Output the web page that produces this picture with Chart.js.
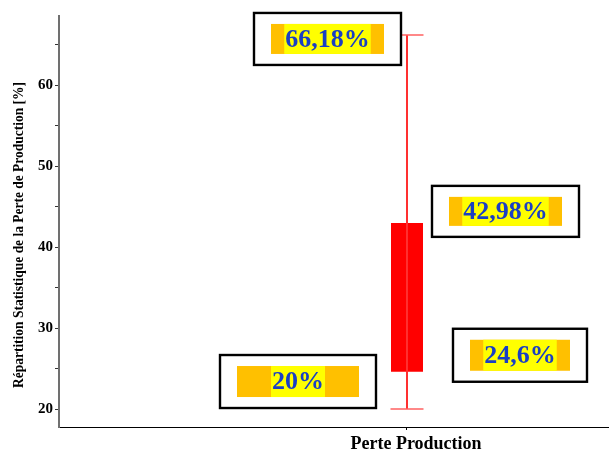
<!DOCTYPE html>
<html>
<head>
<meta charset="utf-8">
<script src="https://cdn.jsdelivr.net/npm/chart.js@4/dist/chart.umd.min.js"></script>
<style>
  html, body { margin: 0; padding: 0; background: #fff; }
  #wrap { width: 610px; height: 450px; position: relative; }
</style>
</head>
<body>
<div id="wrap"><canvas id="c" width="610" height="450"></canvas></div>
<script>
// Box-plot summary of production loss
const categories = ['Perte Production'];
const minimum = [20];
const q1 = [24.6];
const q3 = [42.98];
const maximum = [66.18];
const yTickValues = [20, 25, 30, 35, 40, 45, 50, 55, 60, 65];
const yTitle = 'Répartition Statistique de la Perte de Production [%]';

const fmt = v => String(v).replace('.', ',') + '%';
const catX = i => i + 1;

// callout frames, in pixels relative to the category centre and the value it labels
const calloutLayout = [
  { series: maximum, dx: -153, dy: -22, w: 147, h: 52 },
  { series: q3,      dx: 25,   dy: -37, w: 147, h: 51 },
  { series: q1,      dx: 46,   dy: -43, w: 134, h: 53 },
  { series: minimum, dx: -187, dy: -54, w: 156, h: 53 }
];

const calloutPlugin = {
  id: 'callouts',
  afterDatasetsDraw(chart) {
    const { ctx, scales: { x, y } } = chart;
    ctx.save();
    ctx.font = 'bold 26px "Liberation Serif", "Times New Roman", serif';
    ctx.textAlign = 'center';
    ctx.textBaseline = 'middle';
    calloutLayout.forEach(c => {
      categories.forEach((cat, i) => {
        const v = c.series[i];
        const px = x.getPixelForValue(catX(i));
        const py = y.getPixelForValue(v);
        const fx = px + c.dx, fy = py + c.dy;
        ctx.fillStyle = '#ffffff';
        ctx.fillRect(fx, fy, c.w, c.h);
        ctx.lineWidth = 2.4;
        ctx.strokeStyle = '#000000';
        ctx.strokeRect(fx, fy, c.w, c.h);
        // orange band
        const ox = fx + 17, oy = fy + 11, ow = c.w - 34, oh = c.h - 22;
        ctx.fillStyle = '#ffc000';
        ctx.fillRect(ox, oy, ow, oh);
        const label = fmt(v);
        const tw = ctx.measureText(label).width + 2;
        const cx = ox + ow / 2;
        ctx.fillStyle = '#ffff00';
        ctx.fillRect(cx - tw / 2, oy, tw, oh);
        ctx.fillStyle = '#1a3fc4';
        ctx.fillText(label, cx, oy + oh / 2 + 1);
      });
    });
    ctx.restore();
  }
};

// condensed, rotated axis title
const yTitlePlugin = {
  id: 'yTitle',
  afterDraw(chart) {
    const { ctx } = chart;
    ctx.save();
    ctx.font = 'bold 15px "Liberation Serif", "Times New Roman", serif';
    const natural = ctx.measureText(yTitle).width;
    const target = 306;
    ctx.translate(23, 235);
    ctx.rotate(-Math.PI / 2);
    ctx.scale(target / natural, 1);
    ctx.textAlign = 'center';
    ctx.textBaseline = 'alphabetic';
    ctx.fillStyle = '#000000';
    ctx.fillText(yTitle, 0, 0);
    ctx.restore();
  }
};

new Chart(document.getElementById('c'), {
  type: 'scatter',
  data: {
    datasets: [
      {
        // whisker from minimum to maximum with end caps
        data: categories.map((c, i) => [{ x: catX(i), y: minimum[i] }, { x: catX(i), y: maximum[i] }]).flat(),
        showLine: true,
        borderColor: '#ff3030',
        borderWidth: 2,
        pointStyle: 'line',
        pointRadius: 16.5,
        pointBorderColor: '#ff6060',
        pointBorderWidth: 1.6,
        pointHoverRadius: 16.5
      },
      {
        // inter-quartile box
        data: categories.map((c, i) => [{ x: catX(i), y: q1[i] }, { x: catX(i), y: q3[i] }]).flat(),
        showLine: true,
        borderColor: '#ff0000',
        borderWidth: 32,
        borderCapStyle: 'butt',
        pointRadius: 0,
        pointHoverRadius: 0
      }
    ]
  },
  options: {
    responsive: false,
    animation: false,
    events: [],
    layout: { autoPadding: false, padding: { left: 29, right: 2, top: 16, bottom: 0 } },
    plugins: { legend: { display: false }, tooltip: { enabled: false } },
    scales: {
      x: {
        type: 'linear',
        min: 0,
        max: 1.5776,
        afterBuildTicks: s => { s.ticks = categories.map((c, i) => ({ value: catX(i) })); },
        afterFit: s => { s.height = 23; s.paddingLeft = 0; s.paddingRight = 0; },
        ticks: {
          autoSkip: false,
          maxRotation: 0,
          padding: 4,
          labelOffset: 9,
          color: '#000',
          font: { family: '"Liberation Serif", "Times New Roman", serif', size: 18, weight: 'bold' },
          callback: v => categories[v - 1] ?? ''
        },
        grid: { display: true, drawOnChartArea: false, drawTicks: true, tickLength: 3, color: '#000' },
        border: { display: true, color: '#000', width: 1 }
      },
      y: {
        type: 'linear',
        min: 17.78,
        max: 68.52,
        afterBuildTicks: s => { s.ticks = yTickValues.map(v => ({ value: v })); },
        afterFit: s => { s.width = 30; s.paddingTop = 0; s.paddingBottom = 0; },
        ticks: {
          autoSkip: false,
          padding: 2,
          color: '#000',
          font: { family: '"Liberation Serif", "Times New Roman", serif', size: 15, weight: 'bold' },
          callback: v => (v % 10 === 0 ? String(v) : '')
        },
        grid: { display: true, drawOnChartArea: false, drawTicks: true, tickLength: 4, color: '#333' },
        border: { display: true, color: '#707070', width: 2 }
      }
    }
  },
  plugins: [calloutPlugin, yTitlePlugin]
});
</script>
</body>
</html>
